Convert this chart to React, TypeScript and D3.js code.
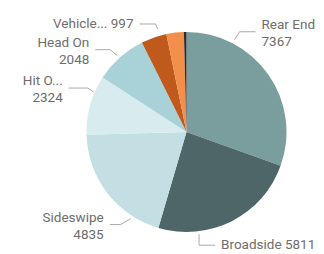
import { useEffect, useRef } from 'react';
import * as d3 from 'd3';

const CATEGORIES = ['Rear End', 'Broadside', 'Sideswipe', 'Hit Object', 'Head On', 'Vehicle/Pedestrian', 'Other', 'Not Stated'];
const SHORT = ['Rear End', 'Broadside', 'Sideswipe', 'Hit O...', 'Head On', 'Vehicle...', '', ''];
const VALUES = [7367, 5811, 4835, 2324, 2048, 997, 680, 100];
const COLORS = ['#7a9d9e', '#4e6667', '#c3dfe3', '#d8ebee', '#a8d2d7', '#c0591c', '#f28f4b', '#2e2e2e'];

// leader layout per labelled slice: angle (deg, clockwise from top), start radius, elbow offset, horizontal length, two-line?
const LABELS = [
  { i: 0, a: 27.5, r: 104, dx: 5, dy: -8, len: 16, two: true },
  { i: 1, a: 173, r: 103, dx: 0, dy: 11, len: 16, two: false },
  { i: 2, a: 212.8, r: 103, dx: -10, dy: 6, len: 11, two: true },
  { i: 3, a: 293.3, r: 101, dx: -6, dy: -4, len: 19, two: true },
  { i: 4, a: 317.8, r: 103, dx: -7, dy: -6, len: 15, two: true },
  { i: 5, a: 344.3, r: 107, dx: -2, dy: -5, len: 16, two: false },
];

const W = 324, H = 254, CX = 186.5, CY = 132, R = 100;

export default function App() {
  const ref = useRef<SVGSVGElement>(null);
  useEffect(() => {
    const svg = d3.select(ref.current); svg.selectAll('*').remove();
    const pie = d3.pie<number>().value(d => d).sort(null);
    const arc = d3.arc<d3.PieArcDatum<number>>().innerRadius(0).outerRadius(R);
    const g = svg.append('g').attr('transform', `translate(${CX},${CY})`);
    g.selectAll('path').data(pie(VALUES)).join('path').attr('d', arc).attr('fill', (_, i) => COLORS[i]);

    const font = 'Roboto, "DejaVu Sans", sans-serif';
    LABELS.forEach(l => {
      const rad = l.a * Math.PI / 180;
      const sx = CX + l.r * Math.sin(rad), sy = CY - l.r * Math.cos(rad);
      const ex = sx + l.dx, ey = sy + l.dy;
      const right = Math.sin(rad) > 0 || l.dx === 0 && Math.sin(rad) > -0.5;
      const hx = right ? ex + l.len : ex - l.len;
      svg.append('path').attr('d', `M${sx},${sy}L${ex},${ey}L${hx},${ey}`)
        .attr('fill', 'none').attr('stroke', '#a9a9a9').attr('stroke-width', 1);
      const tx = right ? hx + 6 : hx - 6;
      const t = svg.append('text').attr('x', tx).attr('text-anchor', right ? 'start' : 'end')
        .attr('fill', '#6e6e6e').attr('font-size', 13.5).attr('font-family', font);
      if (l.two) {
        t.append('tspan').attr('x', tx).attr('y', ey - 8 + 5).text(SHORT[l.i]);
        t.append('tspan').attr('x', tx).attr('y', ey + 9 + 5).text(VALUES[l.i]);
      } else {
        t.attr('y', ey + 4).text(`${SHORT[l.i]} ${VALUES[l.i]}`);
      }
    });
  }, []);
  return <svg ref={ref} width={W} height={H} style={{ position: 'absolute', left: 0, top: 0, background: '#fff' }} />;
}
